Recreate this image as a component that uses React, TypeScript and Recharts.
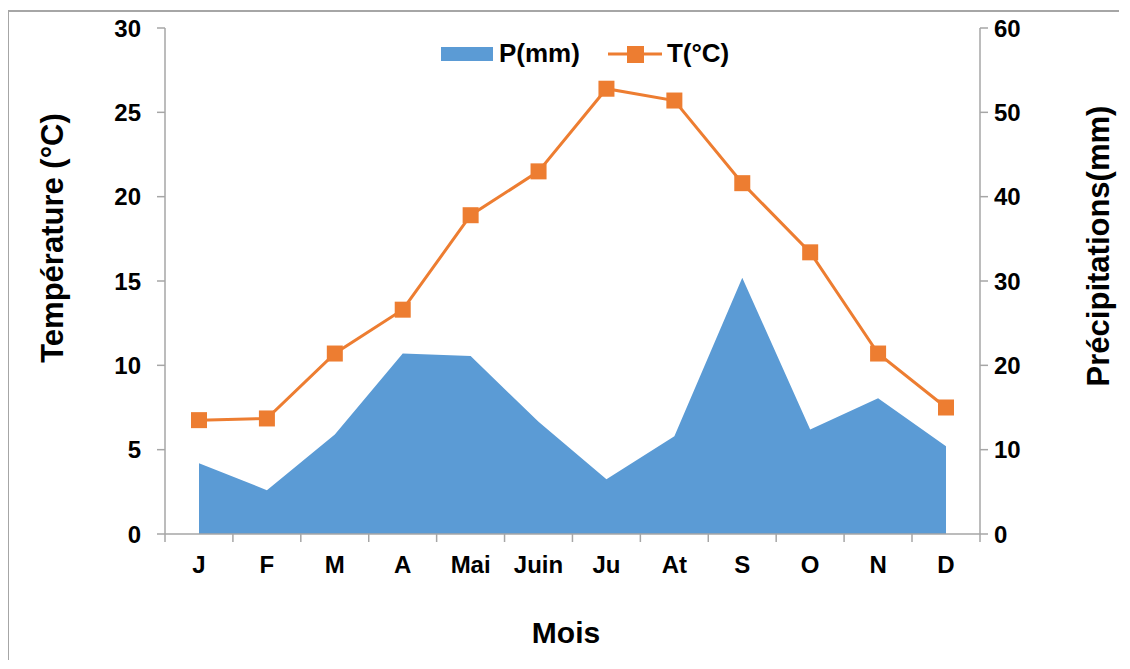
import { ComposedChart, Area, Line, XAxis, YAxis, Legend, Label } from 'recharts';

const months = ['J', 'F', 'M', 'A', 'Mai', 'Juin', 'Ju', 'At', 'S', 'O', 'N', 'D'];
const precipitation = [8.4, 5.2, 11.8, 21.4, 21.1, 13.3, 6.5, 11.6, 30.4, 12.4, 16.1, 10.4];
const temperature = [6.75, 6.85, 10.7, 13.3, 18.9, 21.5, 26.4, 25.7, 20.8, 16.7, 10.7, 7.5];
const tempTicks = [0, 5, 10, 15, 20, 25, 30];
const precipTicks = [0, 10, 20, 30, 40, 50, 60];

const data = months.map((m, i) => ({ month: m, P: precipitation[i], T: temperature[i] }));

const FONT = '"Liberation Sans", Arial, sans-serif';
const AXIS = '#a6a6a6';
const BLUE = '#5b9bd5';
const ORANGE = '#ed7d31';

const MonthTick = (props: any) => {
    const { x, y, payload, index } = props;
    const half = 34;
    return (
        <g>
            <line x1={x - half} x2={x - half} y1={y} y2={y + 8} stroke={AXIS} strokeWidth={1.5} />
            {index === months.length - 1 && (
                <line x1={x + half} x2={x + half} y1={y} y2={y + 8} stroke={AXIS} strokeWidth={1.5} />
            )}
            <text x={x} y={y + 39} textAnchor="middle" fontFamily={FONT} fontWeight="bold" fontSize={24} fill="#000">
                {payload.value}
            </text>
        </g>
    );
};

const SquareDot = (props: any) => {
    const { cx, cy, index } = props;
    return <rect key={`dot-${index}`} x={cx - 8} y={cy - 8} width={16} height={16} fill={ORANGE} />;
};

const LegendContent = (props: any) => {
    const items = props.payload || [];
    return (
        <div style={{ display: 'flex', alignItems: 'center', fontFamily: FONT, fontWeight: 'bold', fontSize: 26 }}>
            {items.map((entry: any) => (
                <div key={entry.value} style={{ display: 'flex', alignItems: 'center', marginRight: 28 }}>
                    {entry.dataKey === 'P' ? (
                        <svg width={58} height={16}>
                            <rect x={0} y={1} width={52} height={14} fill={BLUE} />
                        </svg>
                    ) : (
                        <svg width={59} height={18}>
                            <line x1={0} x2={54} y1={9} y2={9} stroke={ORANGE} strokeWidth={3} />
                            <rect x={19} y={1} width={17} height={17} fill={ORANGE} />
                        </svg>
                    )}
                    <span>{entry.value}</span>
                </div>
            ))}
        </div>
    );
};

export default function App() {
    const tickStyle = { fontFamily: FONT, fontWeight: 'bold', fontSize: 24, fill: '#000' };
    return (
        <div
            style={{
                position: 'relative',
                left: -1,
                top: 2,
                width: 1110,
                height: 650,
                borderTop: `2px solid ${AXIS}`,
                borderLeft: `2px solid ${AXIS}`,
                background: '#fff',
            }}
        >
            <ComposedChart width={1110} height={650} data={data} margin={{ top: 16, right: 0, left: 0, bottom: 0 }}>
                <XAxis
                    dataKey="month"
                    interval={0}
                    padding={{ left: 34, right: 34 }}
                    height={128}
                    tickSize={0}
                    tickMargin={0}
                    axisLine={{ stroke: AXIS, strokeWidth: 1.5 }}
                    tick={<MonthTick />}
                >
                    <Label
                        content={() => (
                            <text x={557} y={631} textAnchor="middle" fontFamily={FONT} fontWeight="bold" fontSize={30} fill="#000">
                                Mois
                            </text>
                        )}
                    />
                </XAxis>
                <YAxis
                    yAxisId="left"
                    orientation="left"
                    width={156}
                    domain={[0, 30]}
                    ticks={tempTicks}
                    interval={0}
                    tickSize={8}
                    tickMargin={16}
                    axisLine={{ stroke: AXIS, strokeWidth: 1.5 }}
                    tickLine={{ stroke: AXIS, strokeWidth: 1.5 }}
                    tick={tickStyle}
                >
                    <Label
                        content={() => (
                            <text
                                x={0}
                                y={0}
                                transform="translate(54 226) rotate(-90)"
                                textAnchor="middle"
                                fontFamily={FONT}
                                fontWeight="bold"
                                fontSize={31}
                                fill="#000"
                            >
                                Température (°C)
                            </text>
                        )}
                    />
                </YAxis>
                <YAxis
                    yAxisId="right"
                    orientation="right"
                    width={139}
                    domain={[0, 60]}
                    ticks={precipTicks}
                    interval={0}
                    tickSize={8}
                    tickMargin={6}
                    axisLine={{ stroke: AXIS, strokeWidth: 1.5 }}
                    tickLine={{ stroke: AXIS, strokeWidth: 1.5 }}
                    tick={tickStyle}
                >
                    <Label
                        content={() => (
                            <text
                                x={0}
                                y={0}
                                transform="translate(1100 234) rotate(-90)"
                                textAnchor="middle"
                                fontFamily={FONT}
                                fontWeight="bold"
                                fontSize={31}
                                fill="#000"
                            >
                                Précipitations(mm)
                            </text>
                        )}
                    />
                </YAxis>
                <Legend
                    verticalAlign="middle"
                    align="center"
                    layout="horizontal"
                    wrapperStyle={{ top: 26, left: 432, width: 'auto' }}
                    content={<LegendContent />}
                />
                <Area
                    yAxisId="right"
                    type="linear"
                    dataKey="P"
                    name="P(mm)"
                    fill={BLUE}
                    fillOpacity={1}
                    stroke="none"
                    isAnimationActive={false}
                />
                <Line
                    yAxisId="left"
                    type="linear"
                    dataKey="T"
                    name="T(°C)"
                    stroke={ORANGE}
                    strokeWidth={3}
                    dot={<SquareDot />}
                    activeDot={false}
                    isAnimationActive={false}
                />
            </ComposedChart>
        </div>
    );
}
